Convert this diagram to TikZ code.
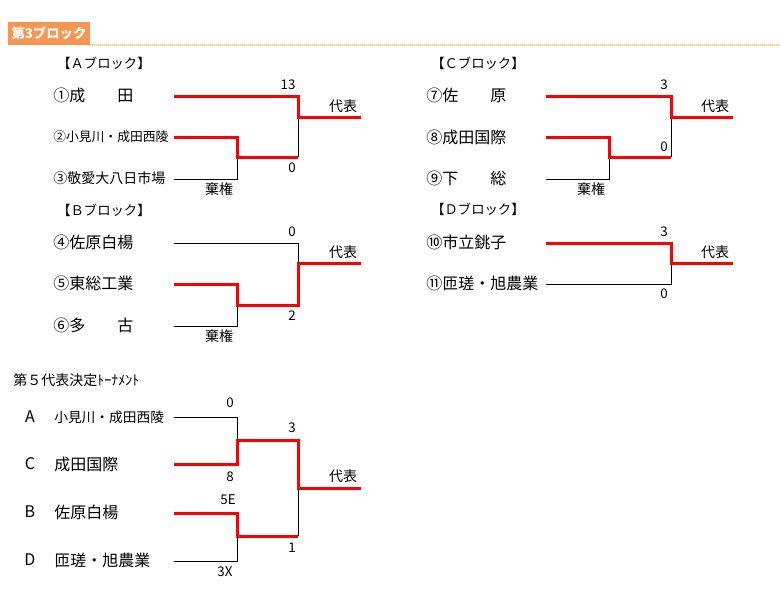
\documentclass[tikz,border=0pt]{standalone}
\usepackage{fontspec}
\setmainfont{Noto Sans CJK JP}
\definecolor{kopf}{RGB}{247,150,80}
\definecolor{punktlinie}{RGB}{225,140,30}
\definecolor{sieg}{RGB}{255,0,0}

\tikzset{
  team/.style={anchor=west, inner sep=0pt, font=\fontsize{12pt}{12pt}\selectfont},
  teamklein/.style={team, font=\fontsize{10.3pt}{10.3pt}\selectfont},
  block/.style={anchor=west, inner sep=0pt, font=\fontsize{10pt}{10pt}\selectfont},
  punkte/.style={inner sep=0pt, font=\fontsize{10pt}{10pt}\selectfont},
  vermerk/.style={inner sep=0pt, font=\fontsize{10.5pt}{10.5pt}\selectfont},
  sieg/.style={draw=sieg, line width=2.25pt},
  linie/.style={draw=black, line width=0.75pt}
}

\begin{document}
\begin{tikzpicture}[x=0.75pt,y=-0.75pt]
\useasboundingbox (0,0) rectangle (780,592);

% Kopfzeile
\node[fill=kopf, text=white, minimum width=61.5pt, minimum height=17pt, inner sep=0pt,
  font=\bfseries\fontsize{10pt}{10pt}\selectfont] (kopf) at (49,33.5) {第3ブロック};
\draw[punktlinie, line width=0.9pt, dash pattern=on 0.75pt off 0.75pt] (kopf.south east) -- (780,45); % Trennlinie

% A-Block
\node[block] (ablock) at (57,63) {【Ａブロック】};
\node[team] (t1) at (53,95) {①成　　田};
\node[team, font=\fontsize{9.6pt}{9.6pt}\selectfont] (t2) at (53,137) {②小見川・成田西陵};
\node[team, font=\fontsize{10.5pt}{10.5pt}\selectfont] (t3) at (53,178) {③敬愛大八日市場};
\coordinate (a1) at (174,96);
\coordinate (a2) at (174,137);
\coordinate (a3) at (174,179);
\coordinate (a23) at (237,157);
\coordinate (am) at (298,117);
\coordinate (a23r) at (298,157);
\coordinate (aout) at (361,117);
\draw[linie] (a3) -| (a23); % Verlierer
\draw[linie] (am) -- (a23r);
\draw[sieg] (a1) -| (am) -- (aout); % Sieger
\draw[sieg] (a2) -| (a23) -- (a23r);
\node[punkte] (as1) at (288,85) {13};
\node[punkte] (as2) at (292,168) {0};
\node[vermerk] (arep) at (343,106) {代表};
\node[vermerk] (akik) at (219,189) {棄権};

% C-Block
\node[block] (cblock) at (431,63) {【Ｃブロック】};
\node[team] (t7) at (426,95) {⑦佐　　原};
\node[team] (t8) at (426,137) {⑧成田国際};
\node[team] (t9) at (426,178) {⑨下　　総};
\coordinate (c7) at (546,96);
\coordinate (c8) at (546,137);
\coordinate (c9) at (546,179);
\coordinate (c89) at (609,157);
\coordinate (cm) at (671,117);
\coordinate (c89r) at (671,157);
\coordinate (cout) at (733,117);
\draw[linie] (c9) -| (c89);
\draw[linie] (cm) -- (c89r);
\draw[sieg] (c7) -| (cm) -- (cout);
\draw[sieg] (c8) -| (c89) -- (c89r);
\node[punkte] (cs1) at (664,85) {3};
\node[punkte] (cs2) at (664,147) {0};
\node[vermerk] (crep) at (715,106) {代表};
\node[vermerk] (ckik) at (591,189) {棄権};

% B-Block
\node[block] (bblock) at (57,210) {【Ｂブロック】};
\node[team] (t4) at (53,242) {④佐原白楊};
\node[team] (t5) at (53,283) {⑤東総工業};
\node[team] (t6) at (53,325) {⑥多　　古};
\coordinate (b4) at (174,243);
\coordinate (b5) at (174,284);
\coordinate (b6) at (174,326);
\coordinate (b56) at (237,305);
\coordinate (bm) at (298,263);
\coordinate (b56r) at (298,305);
\coordinate (bout) at (361,263);
\draw[linie] (b4) -| (bm);
\draw[linie] (b6) -| (b56);
\draw[sieg] (b5) -| (b56) -- (b56r) -- (bm) -- (bout);
\node[punkte] (bs1) at (292,232) {0};
\node[punkte] (bs2) at (292,316) {2};
\node[vermerk] (brep) at (343,252) {代表};
\node[vermerk] (bkik) at (219,336) {棄権};

% D-Block
\node[block] (dblock) at (431,209) {【Ｄブロック】};
\node[team] (t10) at (426,242) {⑩市立銚子};
\node[team] (t11) at (426,283) {⑪匝瑳・旭農業};
\coordinate (d10) at (546,243);
\coordinate (d11) at (546,284);
\coordinate (dm) at (671,263);
\coordinate (dout) at (733,263);
\draw[linie] (d11) -| (dm);
\draw[sieg] (d10) -| (dm) -- (dout);
\node[punkte] (ds1) at (664,232) {3};
\node[punkte] (ds2) at (664,294) {0};
\node[vermerk] (drep) at (715,252) {代表};

% 5. Vertreter
\node[anchor=west, inner sep=0pt, font=\fontsize{10.5pt}{10.5pt}\selectfont] (titel) at (13,380) {第５代表決定ﾄｰﾅﾒﾝﾄ};
\foreach \b/\y in {A/417, C/464, B/512, D/560}
  \node[team, anchor=center] (k\b) at (30,\y) {\b};
\node[teamklein] (fA) at (54,417) {小見川・成田西陵};
\node[team] (fC) at (54,464) {成田国際};
\node[team] (fB) at (54,512) {佐原白楊};
\node[team] (fD) at (54,560) {匝瑳・旭農業};
\coordinate (fa) at (174,417);
\coordinate (fc) at (174,464);
\coordinate (fb) at (174,513);
\coordinate (fd) at (174,561);
\coordinate (fac) at (237,440);
\coordinate (fbd) at (237,536);
\coordinate (fm) at (298,488);
\coordinate (fach) at (298,440);
\coordinate (fbdh) at (298,536);
\coordinate (fout) at (361,488);
\draw[linie] (fa) -| (fac);
\draw[linie] (fd) -| (fbd);
\draw[linie] (fm) -- (fbdh);
\draw[sieg] (fc) -| (fac) -- (fach) -- (fm) -- (fout);
\draw[sieg] (fb) -| (fbd) -- (fbdh);
\node[punkte] (fs1) at (230,403) {0};
\node[punkte] (fs2) at (230,477) {8};
\node[punkte] (fs3) at (228,500) {5E};
\node[punkte] (fs4) at (225,572) {3X};
\node[punkte] (fs5) at (292,428) {3};
\node[punkte] (fs6) at (292,548) {1};
\node[vermerk] (frep) at (343,476) {代表};
\end{tikzpicture}
\end{document}
